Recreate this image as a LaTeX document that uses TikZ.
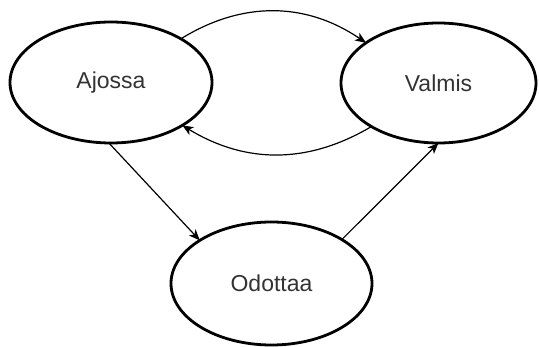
\documentclass[tikz,border=0pt]{standalone}
\usepackage{fontspec}
\setmainfont{Liberation Sans}
\usetikzlibrary{shapes.geometric,arrows.meta}
\definecolor{txt}{HTML}{333333}
\begin{document}
\begin{tikzpicture}[x=1pt,y=-1pt,
  state/.style={ellipse,draw=black,line width=2.8pt,inner sep=0pt,outer sep=0pt,
    font=\fontsize{23}{27}\selectfont,text=txt},
  conn/.style={draw=black,line width=1.2pt,-{Stealth[length=11pt,width=9pt,inset=3pt]}}]
\useasboundingbox (0,0) rectangle (539,347);
\node[state,minimum width=202pt,minimum height=121pt] (A) at (111,82.5) {Ajossa};
\node[state,minimum width=195pt,minimum height=120pt] (V) at (438.5,83) {Valmis};
\node[state,minimum width=201pt,minimum height=123pt] (O) at (271.5,283.5) {Odottaa};
\draw[conn] (A.32) to[bend left=33] (V.151);
\draw[conn] (V.213) to[bend left=31] (A.329);
\draw[conn] (A.268) -- (O.149);
\draw[conn] (O.32) -- (V.270);
\end{tikzpicture}
\end{document}
